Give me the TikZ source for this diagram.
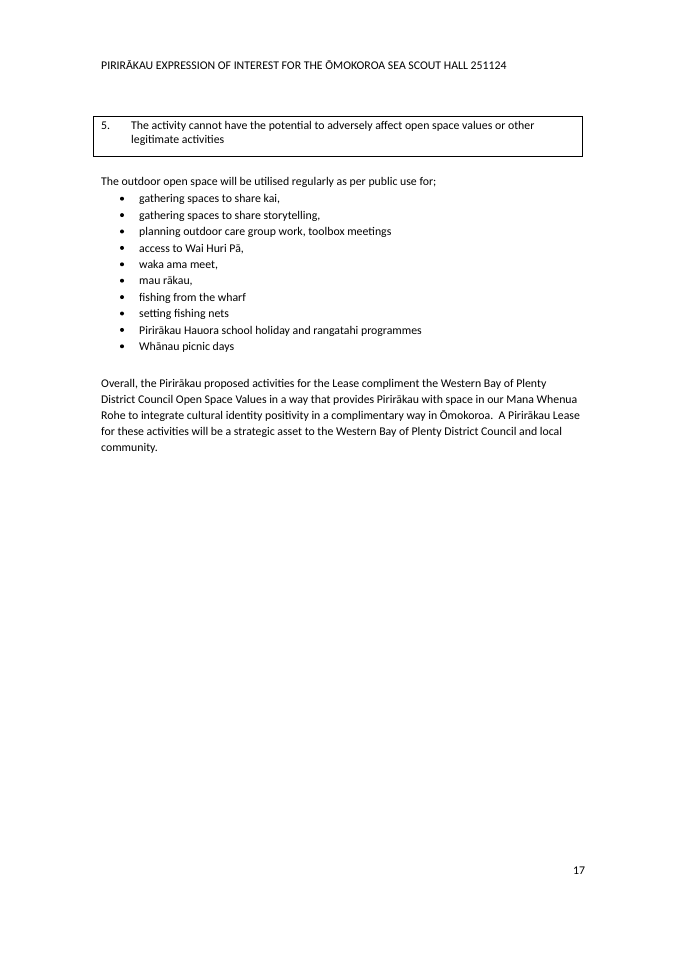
\documentclass[tikz,border=0pt]{standalone}
\usepackage{fontspec}
\setmainfont{Carlito}
\usetikzlibrary{positioning}
\tikzset{
  txt/.style = {anchor = base west, inner sep = 0pt, font = \fontsize{11.8}{13}\selectfont},
  bul/.style = {circle, fill = black, inner sep = 0pt, minimum size = 4pt}
}
\begin{document}
\begin{tikzpicture}[x = 1pt, y = -1pt]
    \useasboundingbox [fill = white] (0, 0) rectangle (683, 965);

    \node [txt] (head) at (101, 70) {PIRIRĀKAU EXPRESSION OF INTEREST FOR THE ŌMOKOROA SEA SCOUT HALL 251124};

    \begin{scope}
        \draw [line width = .6pt] (93, 116) rectangle (582, 156);
        \node [txt] (num) at (101, 130) {5.};
        \node [txt] (crit1) at (131, 130) {The activity cannot have the potential to adversely affect open space values or other};
        \node [txt] (crit2) at (131, 144) {legitimate activities};
    \end{scope}

    \node [txt] (intro) at (101, 186) {The outdoor open space will be utilised regularly as per public use for;};

    \foreach \t [count = \i] in {{gathering spaces to share kai,},
        {gathering spaces to share storytelling,},
        {planning outdoor care group work, toolbox meetings},
        {access to Wai Huri Pā,},
        {waka ama meet,},
        {mau rākau,},
        fishing from the wharf,
        setting fishing nets,
        Pirirākau Hauora school holiday and rangatahi programmes,
        Whānau picnic days} {
        \node [bul] (dot\i) at (122, 182.3 + 16.4*\i) {};
        \node [txt] (item\i) at (139, 186.5 + 16.4*\i) {\t};
    }

    \foreach \t [count = \i] in {
        {Overall, the Pirirākau proposed activities for the Lease compliment the Western Bay of Plenty},
        {District Council Open Space Values in a way that provides Pirirākau with space in our Mana Whenua},
        {Rohe to integrate cultural identity positivity in a complimentary way in Ōmokoroa.\ \ A Pirirākau Lease},
        {for these activities will be a strategic asset to the Western Bay of Plenty District Council and local},
        {community.}} {
        \node [txt] (para\i) at (101, 371 + 16*\i) {\t};
    }

    \node [txt] (page) at (573, 874) {17};
\end{tikzpicture}
\end{document}
